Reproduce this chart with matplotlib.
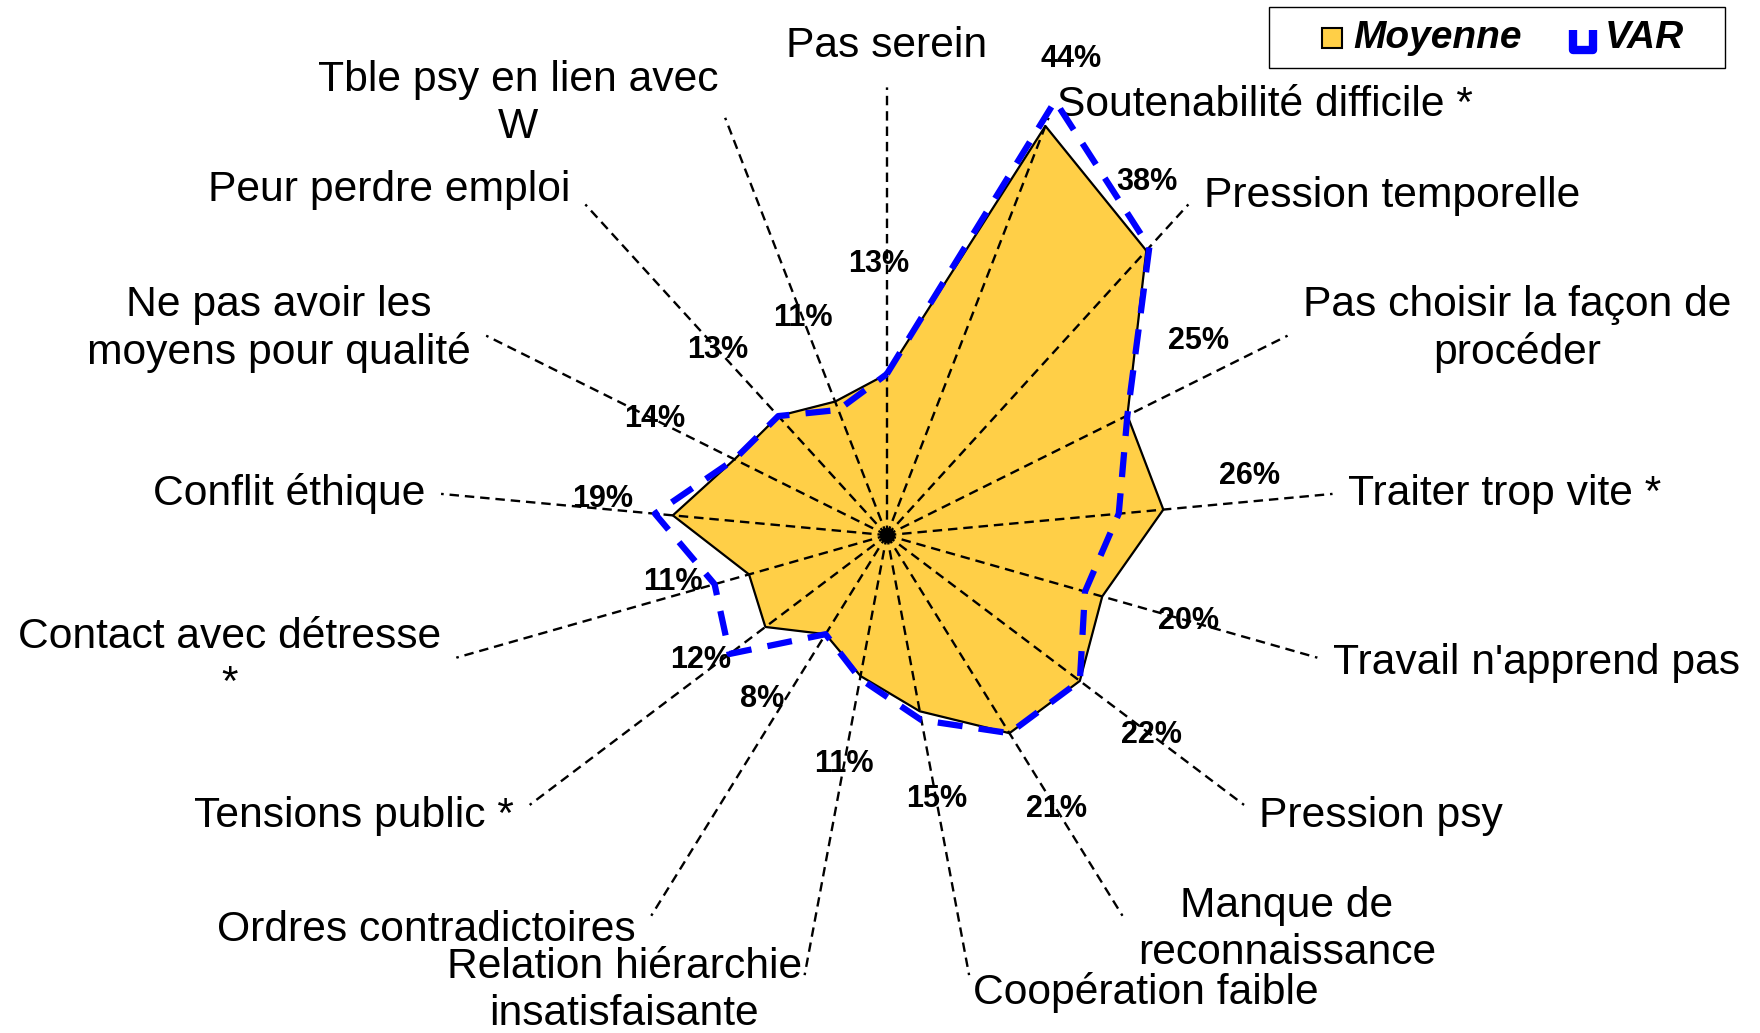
import numpy as np
import matplotlib
matplotlib.use("Agg")
import matplotlib.pyplot as plt
from matplotlib.path import Path
from matplotlib.lines import Line2D
from matplotlib.patches import Rectangle

plt.rcParams['font.family'] = ['Liberation Sans', 'DejaVu Sans']

# Data (percent)
categories = [
    "Pas serein", "Soutenabilité difficile *", "Pression temporelle",
    "Pas choisir la façon de\nprocéder", "Traiter trop vite *",
    "Travail n'apprend pas", "Pression psy", "Manque de\nreconnaissance",
    "Coopération faible", "Relation hiérarchie\ninsatisfaisante",
    "Ordres contradictoires", "Tensions public *", "Contact avec détresse\n*",
    "Conflit éthique", "Ne pas avoir les\nmoyens pour qualité",
    "Peur perdre emploi", "Tble psy en lien avec\nW",
]
moyenne = [13, 44, 38, 25, 26, 20, 22, 21, 15, 11, 8, 12, 11, 19, 14, 13, 11]
var = [13, 47, 38.5, 25, 21, 18, 22, 21, 16, 11.3, 8, 17, 15, 21, 14, 13, 10]
series_names = ["Moyenne", "VAR"]

# label tweaks (style only): category offsets in points, pct (dtheta deg, dr)
cat_dx = [0, 6, 11, 11, 11, 11, 11, 11, 3, -2, -11, -11, -11, -11, -11, -11, -5]
cat_dy = [30, 9, 6, 5, 0, -4, -8, -10, -12, -11, -10, -8, -2, 0, 5, 10, 10]
pct_nudge = [(-1.7, 2.3), (0, -2), (-6, -4), (-5.5, 1), (-4, 0), (0, 0), (0, 0),
             (0, 0), (0, 0), (0, 0), (5.4, 0), (3.3, -2), (3.6, -1.5), (2, -2),
             (0, 0), (0, 0), (0, 0)]

yellow = '#FFCF47'
blue = '#0000FF'
rmin, rmax = -5, 45
n = len(categories)
theta = np.arange(n) * 2 * np.pi / n
theta_c = np.append(theta, theta[0])

fig = plt.figure(figsize=(17.6, 10.33), dpi=100)
ax = fig.add_axes([0.2494, 0.0484, 0.509, 0.867], projection='polar')
ax.set_theta_zero_location('N')
ax.set_theta_direction(-1)
ax.set_ylim(rmin, rmax)
ax.grid(False)
ax.set_xticks([])
ax.set_yticks([])
ax.spines['polar'].set_visible(False)

m_c = np.append(moyenne, moyenne[0])
v_c = np.append(var, var[0])

ax.fill(theta_c, m_c, color=yellow, zorder=1)
for t in theta:
    ax.plot([t, t], [rmin, rmax], color='black', lw=1.7, ls=(0, (4, 2.5)), zorder=2)
ax.plot(theta_c, m_c, color='black', lw=1.6, zorder=3)
ax.plot(theta_c, v_c, color=blue, lw=4.5, ls=(0, (4, 2.6)),
        dash_capstyle='butt', zorder=4, clip_on=False)
ax.plot([0], [rmin], 'o', color='black', ms=10, zorder=5)

for i, (t, lab) in enumerate(zip(theta, categories)):
    s = np.sin(t)
    if abs(s) < 0.1:
        ha = 'center'
    elif s > 0:
        ha = 'left'
    else:
        ha = 'right'
    ax.annotate(lab, xy=(t, rmax), xytext=(cat_dx[i], cat_dy[i]),
                textcoords='offset points', ha=ha, va='center',
                multialignment='center', fontsize=30.7, linespacing=1.22,
                annotation_clip=False)

for i, (t, v) in enumerate(zip(theta, moyenne)):
    dth, dr = pct_nudge[i]
    ax.text(t + np.deg2rad(dth), v + 10 + dr, f"{v}%", ha='center', va='center',
            fontsize=22, fontweight='bold')

# legend drawn by hand (box, keys, texts) in figure pixels
W, H = 1760, 1033
def fx(px):
    return px / W
def fy(py):
    return 1 - py / H

fig.patches.append(Rectangle((fx(1269), fy(68)), fx(1725) - fx(1269), fy(7) - fy(68),
                             transform=fig.transFigure, facecolor='white',
                             edgecolor='black', lw=1.0))
u_marker = Path([(-1, 1), (-1, -1), (1, -1), (1, 1)])
fig.lines.append(Line2D([fx(1332)], [fy(38)], transform=fig.transFigure, ls='none',
                        marker='s', ms=14, mfc=yellow, mec='black', mew=1.5))
fig.lines.append(Line2D([fx(1583)], [fy(40)], transform=fig.transFigure, ls='none',
                        marker=u_marker, ms=14, mfc='none', mec=blue, mew=6))
fig.text(fx(1353), fy(38), series_names[0], ha='left', va='center', fontsize=28,
         fontweight='bold', fontstyle='italic')
fig.text(fx(1605), fy(38), series_names[1], ha='left', va='center', fontsize=28,
         fontweight='bold', fontstyle='italic')

fig.savefig("out.png", dpi=100)
